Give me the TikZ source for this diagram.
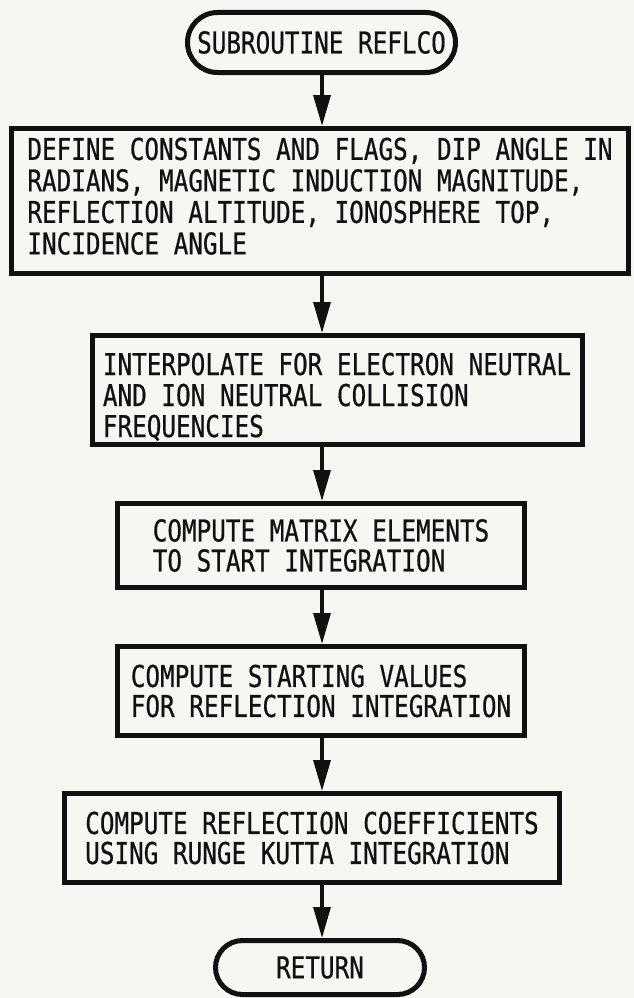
\documentclass[tikz,border=0pt]{standalone}
\usepackage{fontspec}
\newfontfamily\flowfont[FakeStretch=0.81,FakeBold=0.6]{DejaVu Sans Mono}
\usetikzlibrary{arrows.meta}
\definecolor{paper}{RGB}{246,246,243}
\definecolor{ink}{RGB}{17,17,17}
\begin{document}
\begin{tikzpicture}[x=1pt,y=-1pt,
  every node/.style={font=\flowfont\fontsize{30}{30}\selectfont, text=ink},
  procbox/.style={draw=ink, line width=5pt, rectangle, align=left, inner sep=0pt},
  termbox/.style={draw=ink, line width=5pt, rectangle, align=center, inner sep=0pt},
  flow/.style={draw=ink, line width=3.4pt, -{Triangle[length=31pt,width=17pt]}}]
% sheet
\fill[paper] (0,0) rectangle (634,998);
\useasboundingbox (0,0) rectangle (634,998);
% common vertical line of the flow
\coordinate (spine) at (322,0);

\node[termbox, rounded corners=30pt, minimum width=268pt, minimum height=60pt]
  (start) at (321.5,42.5) {SUBROUTINE REFLCO};

\node[procbox, minimum width=617pt, minimum height=145pt,
      text depth=10pt,
      font=\flowfont\fontsize{30}{31.5}\selectfont]
  (init) at (320,201)
  {DEFINE CONSTANTS AND FLAGS, DIP ANGLE IN\\
   RADIANS, MAGNETIC INDUCTION MAGNITUDE,\\
   REFLECTION ALTITUDE, IONOSPHERE TOP,\\
   INCIDENCE ANGLE};

\node[procbox, minimum width=490pt, minimum height=109pt,
      text height=94pt, text depth=0pt,
      font=\flowfont\fontsize{30}{31}\selectfont]
  (interp) at (337,390)
  {INTERPOLATE FOR ELECTRON NEUTRAL\\
   AND ION NEUTRAL COLLISION\\
   FREQUENCIES};

\node[procbox, minimum width=407pt, minimum height=84pt]
  (matrix) at (321,545.5)
  {COMPUTE MATRIX ELEMENTS\\
   TO START INTEGRATION};

\node[procbox, minimum width=407pt, minimum height=89pt]
  (startval) at (321,691)
  {COMPUTE STARTING VALUES\\
   FOR REFLECTION INTEGRATION};

\node[procbox, minimum width=495pt, minimum height=89pt]
  (coeff) at (312,838)
  {COMPUTE REFLECTION COEFFICIENTS\\
   USING RUNGE KUTTA INTEGRATION};

\node[termbox, rounded corners=27pt, minimum width=209pt, minimum height=54pt]
  (return) at (320,967.5) {RETURN};

% connectors
\draw[flow] (start.south -| spine) -- (init.north -| spine);
\draw[flow] (init.south -| spine) -- (interp.north -| spine);
\draw[flow] (interp.south -| spine) -- (matrix.north -| spine);
\draw[flow] (matrix.south -| spine) -- (startval.north -| spine);
\draw[flow] (startval.south -| spine) -- (coeff.north -| spine);
\draw[flow] (coeff.south -| spine) -- (return.north -| spine);
\end{tikzpicture}
\end{document}
